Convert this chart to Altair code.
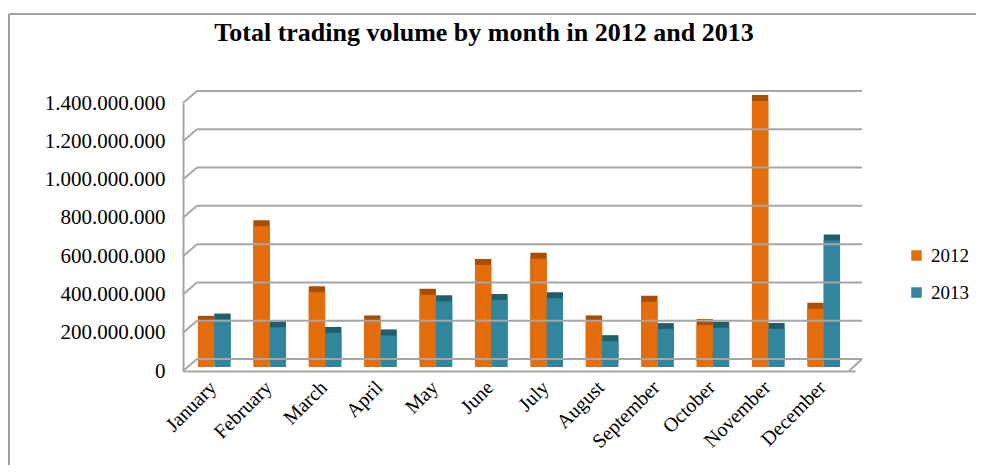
import altair as alt
import pandas as pd

months = ["January", "February", "March", "April", "May", "June", "July",
          "August", "September", "October", "November", "December"]
vol_2012 = [236e6, 735e6, 390e6, 238e6, 378e6, 533e6, 565e6, 238e6, 341e6, 219e6, 1389e6, 304e6]
vol_2013 = [248e6, 207e6, 178e6, 165e6, 344e6, 350e6, 359e6, 135e6, 198e6, 205e6, 199e6, 661e6]
years = ["2012", "2013"]
y_ticks = [0, 200e6, 400e6, 600e6, 800e6, 1000e6, 1200e6, 1400e6]

rows = []
for i, m in enumerate(months):
    rows.append({"month": m, "year": years[0], "volume": vol_2012[i]})
    rows.append({"month": m, "year": years[1], "volume": vol_2013[i]})
df = pd.DataFrame(rows)
ticks_df = pd.DataFrame({"v": y_ticks})

W, H = 672, 268
YMAX = 1400e6
BACK_DY = 12  # perspective depth in px
FONT = "Liberation Serif"

x_enc = alt.X("month:N", sort=months,
              scale=alt.Scale(paddingInner=0.41, paddingOuter=0.27),
              axis=alt.Axis(title=None, labelAngle=315, labelAlign="right",
                            labelBaseline="top", labelPadding=6, labelOffset=-8,
                            labelFont=FONT, labelFontSize=20, labelColor="#000",
                            ticks=False, domainColor="#A6A6A6", domainWidth=2,
                            grid=False, labelOverlap=False))
y_scale = alt.Scale(domain=[0, YMAX], nice=False)
y_axis = alt.Axis(title=None, values=y_ticks, grid=False, ticks=False,
                  labelExpr="join(split(format(datum.value, ','), ','), '.')",
                  labelFont=FONT, labelFontSize=21, labelColor="#000",
                  labelOverlap=False,
                  labelPadding=18, domainColor="#A6A6A6", domainWidth=2)
y_enc = alt.Y("volume:Q", scale=y_scale, axis=y_axis)

one = pd.DataFrame({"a": [0]})
border_top = alt.Chart(one).mark_rule(color="#A0A0A0", strokeWidth=2).encode(
    x=alt.value(-174), x2=alt.value(W + 300), y=alt.value(-89))
border_left = alt.Chart(one).mark_rule(color="#A0A0A0", strokeWidth=2).encode(
    x=alt.value(-174), y=alt.value(-89), y2=alt.value(H + 200))

back_grid = alt.Chart(ticks_df).transform_calculate(
    vb=f"datum.v + {YMAX} * {BACK_DY} / {H}"
).mark_rule(color="#A6A6A6", strokeWidth=2).encode(
    y=alt.Y("vb:Q", scale=y_scale, axis=y_axis), x=alt.value(14), x2=alt.value(W + 7)
)
connectors = alt.Chart(ticks_df).transform_calculate(
    vb=f"datum.v + {YMAX} * {BACK_DY} / {H}"
).mark_rule(color="#A6A6A6", strokeWidth=2).encode(
    y=alt.Y("v:Q", scale=y_scale, axis=y_axis), y2="vb:Q", x=alt.value(0), x2=alt.value(14)
)
floor_edge = alt.Chart(one).mark_rule(
    color="#A6A6A6", strokeWidth=2
).encode(x=alt.value(W - 6), x2=alt.value(W + 7), y=alt.value(H), y2=alt.value(H - BACK_DY))

shadow = alt.Chart(df).mark_bar(xOffset=5, yOffset=-10).encode(
    x=x_enc, xOffset=alt.XOffset("year:N", sort=years), y=y_enc,
    color=alt.condition("datum.year == '2012'", alt.value("#A84E06"), alt.value("#215E6D")),
)
bars = alt.Chart(df).mark_bar(yOffset=-4).encode(
    x=x_enc, xOffset=alt.XOffset("year:N", sort=years), y=y_enc,
    color=alt.Color("year:N", sort=years,
                    scale=alt.Scale(domain=years, range=["#E46C0A", "#31859C"]),
                    legend=alt.Legend(title=None, orient="none", legendX=724, legendY=143,
                                      symbolType="square", symbolSize=110,
                                      symbolStrokeWidth=0, labelFont=FONT,
                                      labelFontSize=19, labelColor="#000",
                                      rowPadding=17, labelOffset=5, padding=0)),
)

chart = alt.layer(shadow, bars, border_top, border_left, back_grid, connectors, floor_edge).properties(
    width=W, height=H,
    padding={"left": 175, "top": 95, "right": 121, "bottom": 94},
    autosize=alt.AutoSizeParams(type="none"),
    title=alt.TitleParams("Total trading volume by month in 2012 and 2013",
                          font=FONT, fontSize=26, fontWeight="bold", color="#000",
                          anchor="middle", frame="group", dx=-35, offset=-33),
).configure_view(stroke=None)

chart.save("out.html", embed_options={"renderer": "svg", "actions": False})
